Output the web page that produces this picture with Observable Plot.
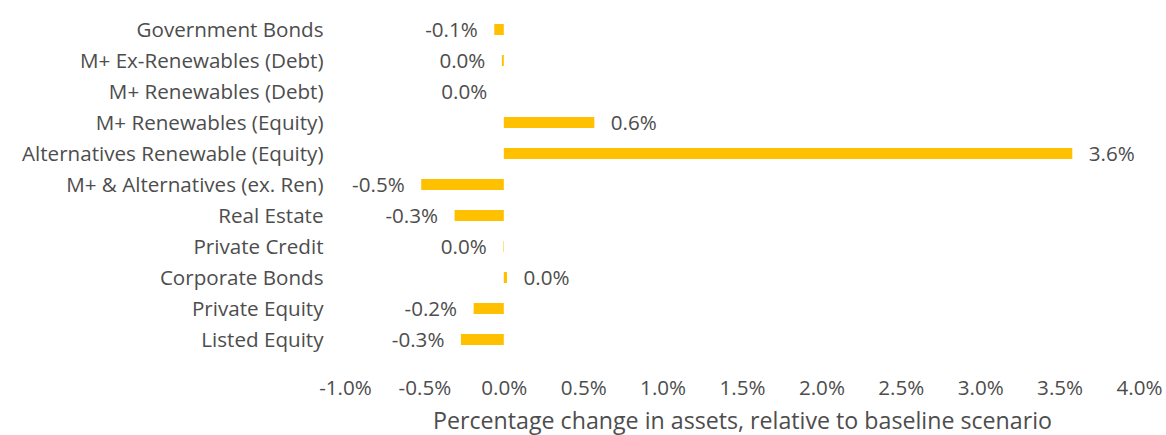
<!DOCTYPE html>
<html><head><meta charset="utf-8">
<script src="https://cdn.jsdelivr.net/npm/d3@7"></script>
<script src="https://cdn.jsdelivr.net/npm/@observablehq/plot@0.6"></script>
<style>
body{margin:0;background:#fff;}
#chart svg{display:block;}
</style>
</head><body><div id="chart"></div>
<script>
const categories = [
  "Government Bonds",
  "M+ Ex-Renewables (Debt)",
  "M+ Renewables (Debt)",
  "M+ Renewables (Equity)",
  "Alternatives Renewable (Equity)",
  "M+ & Alternatives (ex. Ren)",
  "Real Estate",
  "Private Credit",
  "Corporate Bonds",
  "Private Equity",
  "Listed Equity"
];
const values = [-0.06, -0.012, 0, 0.57, 3.58, -0.52, -0.31, -0.003, 0.02, -0.19, -0.27];
const xTicks = [-1, -0.5, 0, 0.5, 1, 1.5, 2, 2.5, 3, 3.5, 4];
const xTitle = "Percentage change in assets, relative to baseline scenario";

const data = categories.map((c, i) => ({category: c, value: values[i]}));
const loc = d3.formatLocale({decimal: ".", thousands: ",", grouping: [3], currency: ["", ""], minus: "-"});
const f1 = loc.format(".1f");
const pct = v => f1(v) + "%";

const font = "'Open Sans', Lato, sans-serif";
const textColor = "#4d4d4d";
const barColor = "#FFC000";
const fs = 20.6;

const chart = Plot.plot({
  width: 1166,
  height: 435,
  marginTop: 14,
  marginBottom: 80,
  marginLeft: 345,
  marginRight: 27,
  style: {fontFamily: font, fontSize: fs + "px", color: textColor, background: "#fff"},
  x: {domain: [-1, 4]},
  y: {domain: categories, paddingInner: 0.64, paddingOuter: 0.32, align: 0.5},
  marks: [
    Plot.axisY({tickSize: 0, tickPadding: 22, fontSize: fs, label: null, fill: textColor}),
    Plot.axisX({ticks: xTicks, tickSize: 0, tickPadding: 25, tickFormat: pct, fontSize: fs, label: null, fill: textColor}),
    Plot.barX(data, {x: "value", y: "category", fill: barColor}),
    Plot.ruleX([0], {stroke: "#d9d9d9", strokeWidth: 1.5, y1: categories[0], y2: categories[categories.length-1], insetTop: -16, insetBottom: -16}),
    Plot.text(data.filter(d => d.value > 0), {x: "value", y: "category", text: d => pct(d.value), textAnchor: "start", dx: 16, fontSize: fs, fill: textColor}),
    Plot.text(data.filter(d => d.value <= 0), {x: "value", y: "category", text: d => pct(d.value), textAnchor: "end", dx: -17, fontSize: fs, fill: textColor}),
    Plot.text([xTitle], {frameAnchor: "bottom", text: d => d, dy: 73, fontSize: 23.2, fill: textColor})
  ]
});
document.getElementById("chart").appendChild(chart);
</script>
</body></html>
